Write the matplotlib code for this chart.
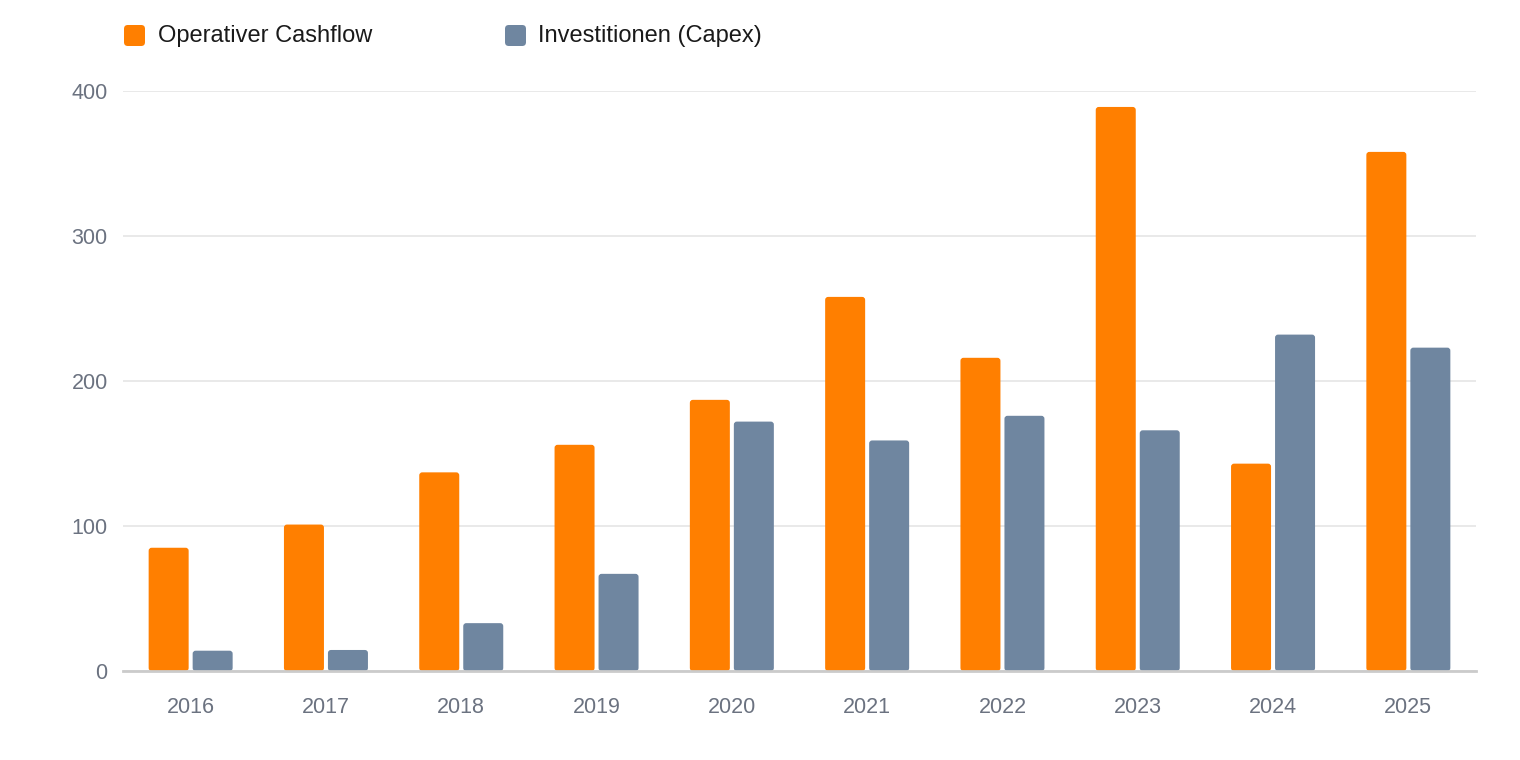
import matplotlib
matplotlib.use("Agg")
import matplotlib.pyplot as plt
from matplotlib.patches import FancyBboxPatch
import numpy as np

plt.rcParams['font.family'] = ['Liberation Sans', 'DejaVu Sans']

years = ["2016", "2017", "2018", "2019", "2020", "2021", "2022", "2023", "2024", "2025"]
operativer_cashflow = [85, 101, 137, 156, 187, 258, 216, 389, 143, 358]
investitionen_capex = [14, 14.5, 33, 67, 172, 159, 176, 166, 232, 223]
series_names = ["Operativer Cashflow", "Investitionen (Capex)"]
colors = ["#FF7F00", "#6F86A0"]
y_ticks = [0, 100, 200, 300, 400]

fig = plt.figure(figsize=(15.2, 7.6), dpi=100)
ax = fig.add_axes([123/1520, 1-671/760, (1476-123)/1520, (671-91)/760])
ax.set_xlim(-0.5, len(years) - 0.5)
ax.set_ylim(0, 400)

# pixel scale for rounding correction
px_x = (1476-123) / len(years)   # px per x unit
px_y = (671-91) / 400            # px per y unit
aspect = px_x / px_y
bw = 40 / px_x
off = 22 / px_x
r = 3 / px_x

x = np.arange(len(years))
for vals, sign, col in [(operativer_cashflow, -1, colors[0]), (investitionen_capex, 1, colors[1])]:
    bars = ax.bar(x + sign*off, vals, width=bw, color=col, alpha=0)
    for b in bars:
        p = FancyBboxPatch((b.get_x(), b.get_y()), b.get_width(), b.get_height(),
                           boxstyle=f"round,pad=0,rounding_size={r}",
                           mutation_aspect=aspect, facecolor=col, edgecolor='none',
                           zorder=3, clip_on=False)
        ax.add_patch(p)

ax.set_yticks(y_ticks)
ax.set_yticklabels([str(t) for t in y_ticks])
ax.set_xticks(x)
ax.set_xticklabels(years)
ax.yaxis.grid(True, color="#E3E3E3", linewidth=1.1, zorder=0)
ax.set_axisbelow(True)
for s in ["top", "right", "left"]:
    ax.spines[s].set_visible(False)
ax.spines["bottom"].set_color("#CBCBCB")
ax.spines["bottom"].set_linewidth(2)
ax.spines["bottom"].set_zorder(4)
ax.tick_params(axis='both', length=0, colors="#6B7280", labelsize=15.5)
ax.tick_params(axis='x', pad=19)
ax.tick_params(axis='y', pad=11)
for lbl in ax.get_yticklabels():
    lbl.set_horizontalalignment('right')

# legend
leg_items = [(124, 158, series_names[0], colors[0]), (505, 538, series_names[1], colors[1])]
for sx, tx, name, col in leg_items:
    p = FancyBboxPatch((sx/1520, 1-46/760), 21/1520, 21/760,
                       boxstyle="round,pad=0,rounding_size=0.0025",
                       mutation_aspect=2.0, transform=fig.transFigure,
                       facecolor=col, edgecolor='none')
    fig.patches.append(p)
    fig.text(tx/1520, 1-36/760, name, fontsize=17, color="#1A1A1A",
             va='center', ha='left')

fig.savefig("out.png", dpi=100)
